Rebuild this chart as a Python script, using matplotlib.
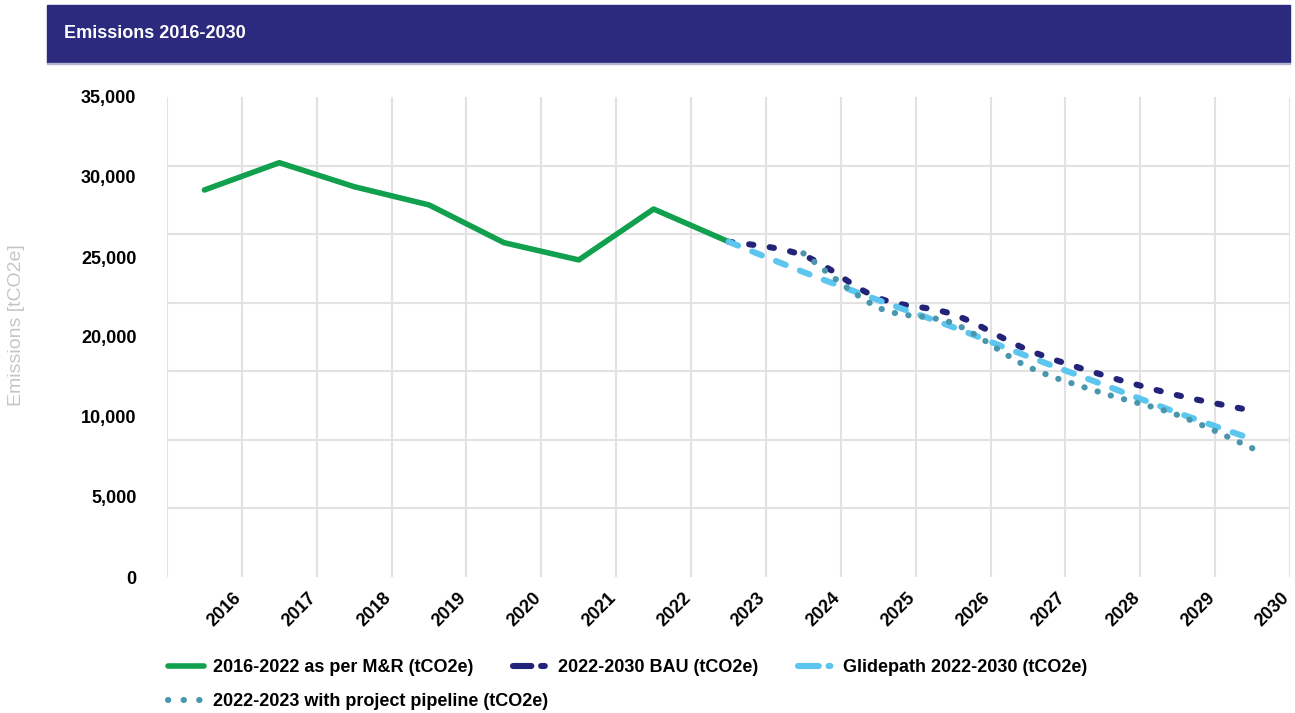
import numpy as np
import matplotlib
matplotlib.use("Agg")
import matplotlib.pyplot as plt
from matplotlib.path import Path
from matplotlib.patches import PathPatch, Rectangle
from matplotlib.lines import Line2D

plt.rcParams['font.family'] = ['Liberation Sans', 'DejaVu Sans']

years = list(range(2016, 2031))
actual = [28220, 30210, 28460, 27130, 24380, 23120, 26830, 24450]
bau = [24450, 23450, 20350, 19150, 16560, 14730, 13250, 12120]        # 2023-2030
glide = [24450, 22240, 20190, 18220, 16080, 14040, 11970, 10050]      # 2023-2030
pipeline = [23600, 19650, 18500, 15330, 13410, 11810, 9380]           # 2024-2030

ytick_labels = ['0', '5,000', '10,000', '20,000', '25,000', '30,000', '35,000']

labels = ['2016-2022 as per M&R (tCO2e)', '2022-2030 BAU (tCO2e)',
          'Glidepath 2022-2030 (tCO2e)', '2022-2023 with project pipeline (tCO2e)']

green = '#10A04E'
navy = '#23237A'
sky = '#5CC6EE'
teal = '#4A97AD'
banner = '#2B2A7F'
gridc = '#E2E2E2'


def smooth_path(x, y):
    # catmull-rom through the points, as cubic bezier segments
    pts = np.column_stack([x, y]).astype(float)
    verts = [pts[0]]
    codes = [Path.MOVETO]
    n = len(pts)
    for i in range(n - 1):
        p0 = pts[max(i - 1, 0)]
        p1, p2 = pts[i], pts[i + 1]
        p3 = pts[min(i + 2, n - 1)]
        verts += [p1 + (p2 - p0) / 6, p2 - (p3 - p1) / 6, p2]
        codes += [Path.CURVE4] * 3
    return Path(verts, codes)


W, H = 1295, 713
fig = plt.figure(figsize=(W / 100, H / 100), dpi=100)

# header bar
fig.patches.append(Rectangle((47 / W, 1 - 63 / H), (1290 - 47) / W, 58 / H,
                             transform=fig.transFigure, color=banner, zorder=0))
fig.patches.append(Rectangle((47 / W, 1 - 64 / H), (1290 - 47) / W, 1 / H,
                             transform=fig.transFigure, color='#B4B4D2', zorder=0))
fig.text(64 / W, 1 - 33 / H, 'Emissions 2016-2030', color='white',
         fontsize=13, fontweight='bold', va='center', ha='left')

ax = fig.add_axes([167 / W, 1 - 577 / H, 1123 / W, 480 / H])
ax.set_xlim(-0.5, 14.5)
ax.set_ylim(0, 35000)

x_all = np.arange(len(years))
ax.plot(x_all[:len(actual)], actual, color=green, lw=4.0,
        solid_capstyle='round', solid_joinstyle='round', zorder=3)

x_proj = x_all[7:]
ax.add_patch(PathPatch(smooth_path(x_proj, bau), fill=False, edgecolor=navy,
                       lw=4.4, linestyle=(0, (0.7, 2.7)), capstyle='round', zorder=4))
ax.add_patch(PathPatch(smooth_path(x_proj, glide), fill=False, edgecolor=sky,
                       lw=4.4, linestyle=(0, (1.7, 2.5)), capstyle='round', zorder=5))
ax.add_patch(PathPatch(smooth_path(x_all[8:], pipeline), fill=False, edgecolor=teal,
                       lw=4.4, linestyle=(0, (0.05, 2.2)), capstyle='round', zorder=6))

# grid on band edges / every 5,000, labels on their own ticks
ax.set_xticks(np.arange(-0.5, 15, 1), minor=True)
ax.set_yticks(np.arange(0, 35001, 5000), minor=True)
ax.grid(which='minor', color=gridc, lw=1.5)
ax.grid(which='major', visible=False)
ax.set_axisbelow(True)

ax.set_xticks(x_all + 0.38)
ax.set_xticklabels([str(y) for y in years], rotation=45, ha='right', va='top',
                   rotation_mode='anchor', fontsize=13, fontweight='bold')
ax.set_yticks(np.linspace(0, 35000, len(ytick_labels)))
ax.set_yticklabels(ytick_labels, fontsize=13, fontweight='bold')
ax.tick_params(which='both', length=0)
ax.tick_params(axis='y', pad=22)
ax.tick_params(axis='x', pad=9)
for s in ax.spines.values():
    s.set_visible(False)

fig.text(17 / W, 1 - 325 / H, 'Emissions [tCO2e]', rotation=90, color='#C6C6C6',
         fontsize=14, ha='center', va='center')

# legend
h_act = Line2D([], [], color=green, lw=4.0, solid_capstyle='round')
h_bau = Line2D([], [], color=navy, lw=4.4, dashes=(3, 1.6, 0.6, 4), dash_capstyle='round')
h_gl = Line2D([], [], color=sky, lw=4.4, dashes=(3.4, 1.6, 0.3, 4), dash_capstyle='round')
h_pp = Line2D([], [], color=teal, lw=4.4, dashes=(0.05, 2.5), dash_capstyle='round')

prop = {'weight': 'bold', 'size': 13}
fig.legend([h_act, h_bau, h_gl], labels[:3], loc='upper left',
           bbox_to_anchor=(168 / W, 1 - 659 / H), ncol=3, frameon=False, prop=prop,
           handlelength=2.0, handletextpad=0.5, columnspacing=2.2,
           borderpad=0, borderaxespad=0)
fig.legend([h_pp], labels[3:], loc='upper left',
           bbox_to_anchor=(168 / W, 1 - 693 / H), frameon=False, prop=prop,
           handlelength=2.0, handletextpad=0.5, borderpad=0, borderaxespad=0)

fig.savefig('out.png', dpi=100)
